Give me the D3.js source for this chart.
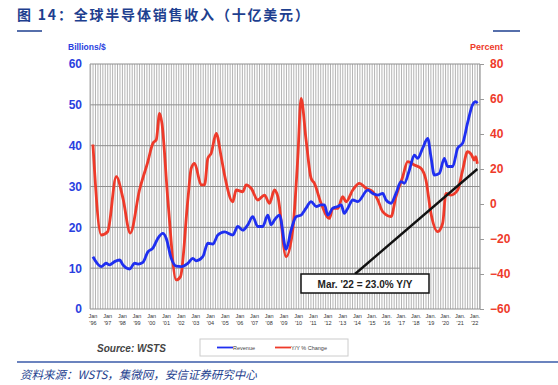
<!DOCTYPE html>
<html><head><meta charset="utf-8">
<script src="https://cdn.jsdelivr.net/npm/d3@7"></script>
<style>
html,body{margin:0;padding:0;background:#fff;}
svg{display:block;}
</style></head>
<body>
<svg id="c" width="558" height="385"></svg>
<script>
// ---- data ----
const revT = [1996.0,1996.56,1996.9,1997.13,1997.47,1997.82,1998.04,1998.5,1998.84,1999.07,1999.4,1999.74,2000.08,2000.42,2000.76,2000.99,2001.33,2001.67,2002.01,2002.46,2002.8,2003.03,2003.48,2003.82,2004.16,2004.5,2004.96,2005.52,2005.86,2006.2,2006.54,2006.88,2007.22,2007.56,2007.9,2008.13,2008.36,2008.7,2009.15,2009.49,2009.83,2010.17,2010.51,2010.85,2011.2,2011.53,2011.76,2011.99,2012.33,2012.67,2012.9,2013.11,2013.35,2013.69,2014.03,2014.71,2015.05,2015.39,2015.73,2015.95,2016.29,2016.63,2016.97,2017.2,2017.54,2017.88,2018.11,2018.45,2018.79,2019.01,2019.24,2019.58,2019.92,2020.14,2020.49,2020.83,2021.17,2021.5,2021.84,2022.06,2022.17];
const revV = [12.8,10.4,11.2,10.8,11.6,12.0,10.8,9.8,11.2,11.0,11.4,14.0,14.9,17.3,18.5,17.3,12.4,10.5,10.4,11.2,12.4,11.8,12.8,16.1,15.9,18.1,18.9,18.1,20.2,19.3,20.6,22.6,20.2,20.2,23.0,20.6,21.8,23.0,14.6,19.3,22.6,23.0,24.7,26.3,25.1,25.5,25.5,23.0,24.7,25.1,25.5,23.4,24.7,26.7,26.3,29.1,28.3,27.9,28.3,26.7,25.9,28.3,31.2,30.8,34.0,37.7,36.9,39.4,41.8,37.3,32.8,33.2,36.9,34.9,34.9,39.4,40.6,45.5,50.0,50.8,50.4];
const yoyT = [1996.0,1996.56,1997.0,1997.59,1998.04,1998.54,1999.17,1999.74,2000.08,2000.31,2000.54,2000.7,2001.1,2001.67,2001.96,2002.46,2002.69,2002.92,2003.37,2003.6,2003.82,2004.05,2004.39,2004.73,2004.96,2005.52,2005.75,2006.2,2006.43,2006.77,2007.22,2007.68,2008.02,2008.36,2008.59,2009.15,2009.6,2009.95,2010.17,2010.51,2010.85,2011.08,2011.53,2012.1,2012.33,2012.67,2013.0,2013.23,2013.69,2014.14,2014.59,2015.05,2015.39,2015.73,2016.29,2016.63,2017.09,2017.43,2017.88,2018.33,2018.67,2019.01,2019.47,2019.81,2020.03,2020.37,2020.83,2021.17,2021.5,2021.78,2021.95,2022.06,2022.17];
const yoyV = [34,-17.7,-15.8,15.6,3.4,-16.6,8,24.2,34.7,36.6,51.8,46,2.3,-43.4,-41.5,2.3,20.4,23.2,10.9,10.9,26.1,29,40.4,27,16.6,1.3,8,7,10.9,9,2.3,5.1,0.4,8,4.2,-30.1,-14.9,27,60.4,36.6,14.7,11.8,0.4,-8.2,-2.5,-2.5,4.2,1.3,8,11.8,9,7,2.3,-4.4,-7.2,4.2,15.6,24.2,22.3,20.4,13.7,-5.3,-15.8,-11,6.1,5.1,8,19.4,29.9,28,25.1,27,23.0];
const years = d3.range(1996, 2023);
const leftTicks = [0,10,20,30,40,50,60];
const rightTicks = [-60,-40,-20,0,20,40,60,80];
const titleText = "图 14：全球半导体销售收入（十亿美元）";
const sourceText = "资料来源：WSTS，集微网，安信证券研究中心";
const annotText = "Mar. '22 = 23.0% Y/Y";
const annotPoint = [2022.17, 20];

// ---- layout ----
const svg = d3.select("#c");
const L = 90, R = 480, T = 64, B = 309;
const x = d3.scaleLinear().domain([1995.8, 2022.35]).range([L, R]);
const yL = d3.scaleLinear().domain([0, 60]).range([B, T]);
const yR = d3.scaleLinear().domain([-60, 80]).range([B, T]);
const blue = "#1f2ff0", red = "#ee3a2a", navy = "#1e3f8f";
const latin = "'Liberation Sans', Arial, sans-serif";
const cjk = "'Noto Sans CJK SC', sans-serif";

// title
svg.append("text").attr("x", 17).attr("y", 20).attr("fill", navy)
  .attr("font-family", cjk).attr("font-weight", "bold").attr("font-size", 14)
  .attr("letter-spacing", 1.8).text(titleText);
svg.append("line").attr("x1", 17).attr("x2", 42).attr("y1", 31).attr("y2", 31).attr("stroke", navy).attr("stroke-width", 1.5);
svg.append("line").attr("x1", 493).attr("x2", 520).attr("y1", 31).attr("y2", 31).attr("stroke", navy).attr("stroke-width", 1.5);

// vertical grid (every 2 months)
const vg = d3.range(1995.84, 2022.35, 1/6);
svg.append("g").selectAll("line").data(vg).join("line")
  .attr("x1", d => x(d)).attr("x2", d => x(d)).attr("y1", T).attr("y2", B)
  .attr("stroke", "#b4b4b4").attr("stroke-width", 1);
// horizontal grid
svg.append("g").selectAll("line").data(leftTicks).join("line")
  .attr("x1", L).attr("x2", R).attr("y1", d => yL(d)).attr("y2", d => yL(d))
  .attr("stroke", "#8f8f8f").attr("stroke-width", 1);
// frame lines
svg.append("line").attr("x1", R).attr("x2", R).attr("y1", T).attr("y2", B).attr("stroke", "#999").attr("stroke-width", 1);
svg.append("line").attr("x1", L).attr("x2", L).attr("y1", T).attr("y2", B).attr("stroke", "#aaa").attr("stroke-width", 1);

// left axis
const gl = svg.append("g").attr("transform", `translate(${L},0)`)
  .call(d3.axisLeft(yL).tickValues(leftTicks).tickSize(0).tickPadding(8));
gl.select(".domain").remove();
gl.selectAll("text").attr("fill", "#2a3fe0").attr("font-family", latin).attr("font-weight", "bold").attr("font-size", 12);
svg.append("text").attr("x", 68).attr("y", 50).attr("fill", "#2a3fe0").attr("font-family", latin)
  .attr("font-weight", "bold").attr("font-size", 8.5).text("Billions/$");

// right axis
const gr = svg.append("g").attr("transform", `translate(${R},0)`)
  .call(d3.axisRight(yR).tickValues(rightTicks).tickSize(4).tickPadding(6));
gr.select(".domain").remove();
gr.selectAll("line").attr("stroke", "#999");
gr.selectAll("text").attr("fill", red).attr("font-family", latin).attr("font-weight", "bold").attr("font-size", 12);
svg.append("text").attr("x", 470).attr("y", 50).attr("fill", red).attr("font-family", latin)
  .attr("font-weight", "bold").attr("font-size", 9).text("Percent");

// x labels
const gx = svg.append("g");
gx.selectAll("text.a").data(years).join("text").attr("class", "a")
  .attr("x", d => x(d)).attr("y", 318).attr("text-anchor", "middle")
  .attr("font-family", latin).attr("font-size", 5.5).attr("fill", "#333")
  .text(d => d >= 2015 ? "Jan." : "Jan");
gx.selectAll("text.b").data(years).join("text").attr("class", "b")
  .attr("x", d => x(d)).attr("y", 325).attr("text-anchor", "middle")
  .attr("font-family", latin).attr("font-size", 5.5).attr("fill", "#333")
  .text(d => "'" + String(d).slice(2));

// lines
const yoy = yoyT.map((t, i) => [t, yoyV[i]]);
const rev = revT.map((t, i) => [t, revV[i]]);
svg.append("path").datum(yoy).attr("fill", "none").attr("stroke", red).attr("stroke-width", 2.8)
  .attr("stroke-linejoin", "round")
  .attr("d", d3.line().x(d => x(d[0])).y(d => yR(d[1])).curve(d3.curveMonotoneX));
svg.append("path").datum(rev).attr("fill", "none").attr("stroke", blue).attr("stroke-width", 2.8)
  .attr("stroke-linejoin", "round")
  .attr("d", d3.line().x(d => x(d[0])).y(d => yL(d[1])).curve(d3.curveMonotoneX));

// annotation
const bx = 301, by = 274, bw = 128, bh = 19;
svg.append("line").attr("x1", 355).attr("y1", by).attr("x2", x(annotPoint[0])).attr("y2", yR(annotPoint[1]))
  .attr("stroke", "#111").attr("stroke-width", 2.4);
svg.append("rect").attr("x", bx).attr("y", by).attr("width", bw).attr("height", bh)
  .attr("fill", "#fff").attr("stroke", "#111").attr("stroke-width", 1.5);
svg.append("text").attr("x", bx + bw/2).attr("y", by + 13.5).attr("text-anchor", "middle")
  .attr("font-family", latin).attr("font-weight", "bold").attr("font-size", 10).attr("fill", "#222").text(annotText);

// source + legend
svg.append("text").attr("x", 97).attr("y", 352).attr("font-family", latin).attr("font-weight", "bold")
  .attr("font-style", "italic").attr("font-size", 10).attr("fill", "#444").text("Source: WSTS");
svg.append("rect").attr("x", 200).attr("y", 339).attr("width", 148).attr("height", 17)
  .attr("fill", "#fff").attr("stroke", "#ccc").attr("stroke-width", 1);
const legend = [{n:"Revenue", c: blue, x: 217}, {n:"Y/Y % Change", c: red, x: 275}];
legend.forEach(l => {
  svg.append("line").attr("x1", l.x).attr("x2", l.x + 16).attr("y1", 347.5).attr("y2", 347.5).attr("stroke", l.c).attr("stroke-width", 1.8);
  svg.append("text").attr("x", l.x + 16).attr("y", 349.5).attr("font-family", latin).attr("font-size", 5.5).attr("fill", "#444").text(l.n);
});

// bottom rule + source
svg.append("line").attr("x1", 17).attr("x2", 558).attr("y1", 362).attr("y2", 362).attr("stroke", "#3a5aa8").attr("stroke-width", 1.5);
svg.append("text").attr("x", 20).attr("y", 379).attr("font-family", cjk).attr("font-style", "italic")
  .attr("font-size", 11.5).attr("fill", navy).text(sourceText);
</script>
</body></html>
